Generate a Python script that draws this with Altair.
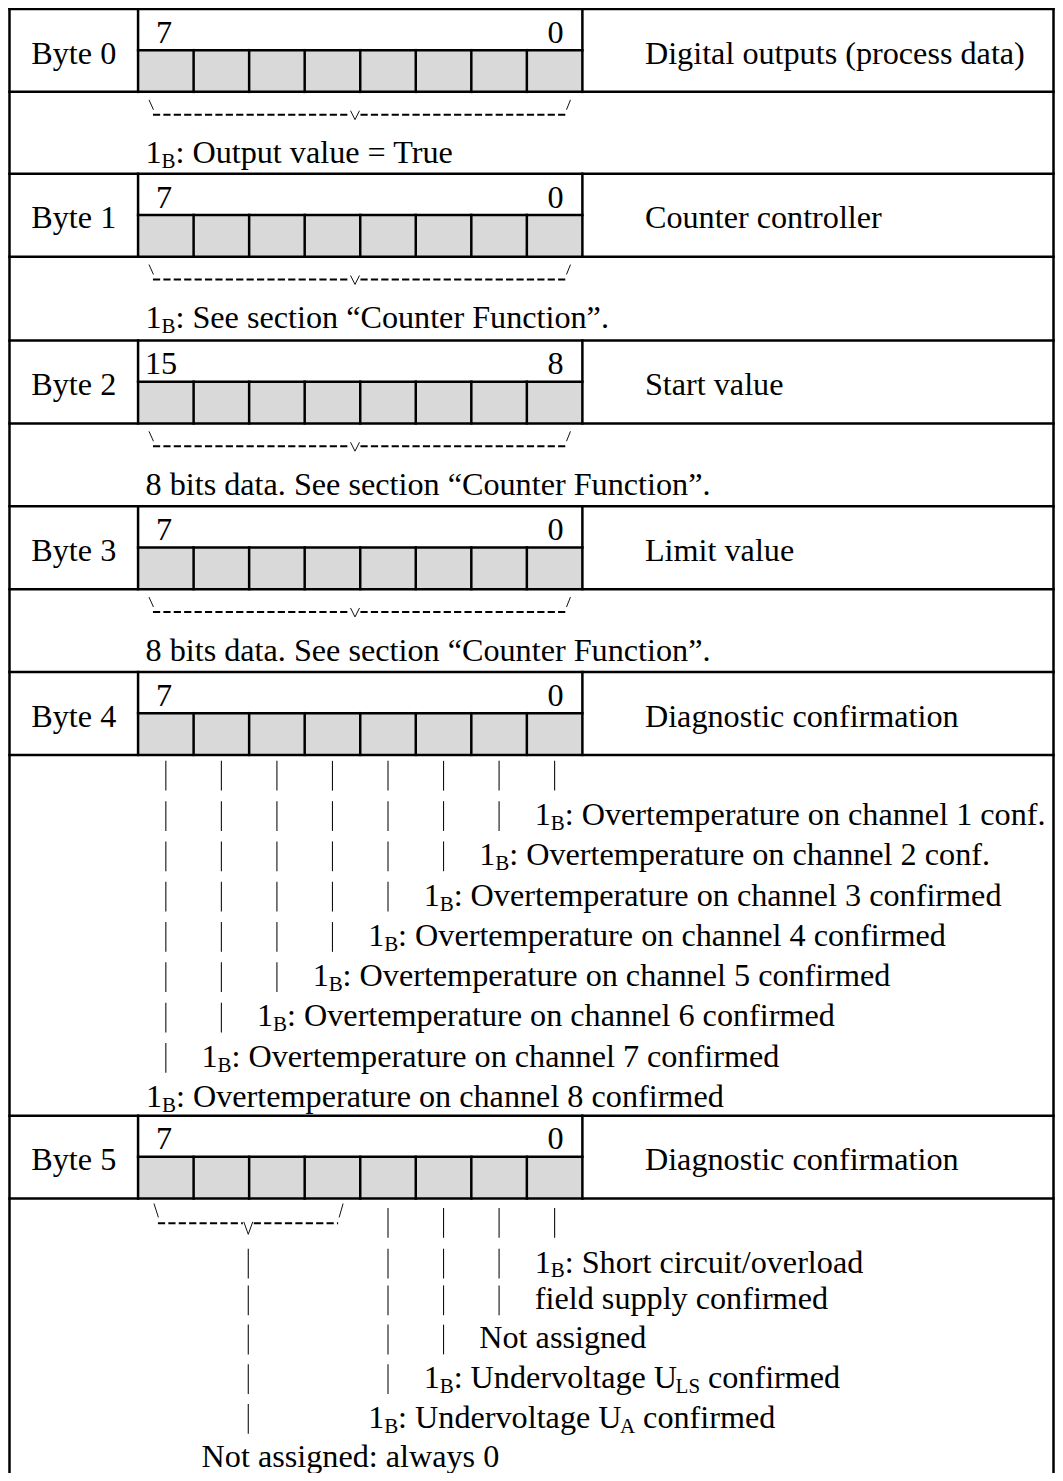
import altair as alt
import pandas as pd

# ---------------- content ----------------
byte_labels = ["Byte 0", "Byte 1", "Byte 2", "Byte 3", "Byte 4", "Byte 5"]
high_bits = ["7", "7", "15", "7", "7", "7"]
low_bits = ["0", "0", "8", "0", "0", "0"]
byte_names = [
    "Digital outputs (process data)",
    "Counter controller",
    "Start value",
    "Limit value",
    "Diagnostic confirmation",
    "Diagnostic confirmation",
]
# segments: (text, is_subscript)
brace_notes = [
    [("1", False), ("B", True), (": Output value = True", False)],
    [("1", False), ("B", True), (": See section \u201cCounter Function\u201d.", False)],
    [("8 bits data. See section \u201cCounter Function\u201d.", False)],
    [("8 bits data. See section \u201cCounter Function\u201d.", False)],
]
channel_notes = [
    "Overtemperature on channel 1 conf.",
    "Overtemperature on channel 2 conf.",
    "Overtemperature on channel 3 confirmed",
    "Overtemperature on channel 4 confirmed",
    "Overtemperature on channel 5 confirmed",
    "Overtemperature on channel 6 confirmed",
    "Overtemperature on channel 7 confirmed",
    "Overtemperature on channel 8 confirmed",
]
byte5_notes = [
    [("1", False), ("B", True), (": Short circuit/overload", False)],
    [("field supply confirmed", False)],
    [("Not assigned", False)],
    [("1", False), ("B", True), (": Undervoltage U", False), ("LS", True), (" confirmed", False)],
    [("1", False), ("B", True), (": Undervoltage U", False), ("A", True), (" confirmed", False)],
    [("Not assigned: always 0", False)],
]
# column (0 = bit 7 ... 7 = bit 0) after which each byte-5 note starts
byte5_note_cols = [6, 6, 5, 4, 3, 0]
byte5_note_rows = [1, 2, 3, 4, 5, 6]

# ---------------- layout (reference pixel space) ----------------
FONT = "Liberation Serif"
F = 32.2
FS = 21.0
SUB_DY = 5.0
LEFT, RIGHT = 10.0, 1061.5
DIV1, DIV2 = 139.5, 587.0
DESC_X = 650.0
byte_tops = [5.0, 171.0, 339.0, 506.0, 673.0, 1120.0]
ROW_H = 83.5
BITS_OFF = 41.5
CELL = (DIV2 - DIV1) / 8
BOTTOM = 1495.0
NOTE_GAP = 36.0
LINE_W = 2.5


def col_x(c):
    return DIV1 + CELL * (c + 0.5)


# Times / Liberation Serif advance widths (1/1000 em)
ADV = {"1": 500, ":": 278, " ": 250, "U": 722, "n": 500, "d": 500, "e": 444,
       "r": 333, "v": 500, "o": 500, "l": 278, "t": 278, "a": 444, "g": 500,
       "B": 667, "L": 611, "S": 556, "A": 722}


def tw(s, size):
    return sum(ADV.get(ch, 500) for ch in s) * size / 1000.0


lines, thin, dashed, rects = [], [], [], []
txt_left, txt_center, txt_right = [], [], []


def add_segments(x0, base, segs):
    x = x0
    for s, sub in segs:
        size = FS if sub else F
        yy = base + SUB_DY if sub else base
        stripped = s.lstrip(" ")
        lead = tw(s[: len(s) - len(stripped)], size)
        txt_left.append(dict(x=x + lead, y=yy, t=stripped, size=size))
        x += tw(s, size)


def pipe(x, base):
    thin.append(dict(x=x, y=base - 24, x2=x, y2=base + 6, w=1.1))


def brace(x_start, x_end, xv, y_dash, y_top, y_bot, v_top, v_bot):
    thin.append(dict(x=x_start - 4, y=y_top, x2=x_start + 0.5, y2=y_bot, w=1.0))
    thin.append(dict(x=x_end + 1, y=y_bot, x2=x_end + 5, y2=y_top, w=1.0))
    thin.append(dict(x=xv - 4.5, y=v_top, x2=xv, y2=v_bot, w=1.0))
    thin.append(dict(x=xv, y=v_bot, x2=xv + 4.5, y2=v_top, w=1.0))
    dashed.append(dict(x=x_start, y=y_dash, x2=xv - 5.5, y2=y_dash))
    dashed.append(dict(x=xv + 5.5, y=y_dash, x2=x_end, y2=y_dash))


# outer verticals
lines.append(dict(x=LEFT, y=byte_tops[0], x2=LEFT, y2=BOTTOM, w=LINE_W))
lines.append(dict(x=RIGHT, y=byte_tops[0], x2=RIGHT, y2=BOTTOM, w=LINE_W))

for i, t in enumerate(byte_tops):
    b = t + ROW_H
    lines.append(dict(x=LEFT, y=t, x2=RIGHT, y2=t, w=LINE_W))
    lines.append(dict(x=LEFT, y=b, x2=RIGHT, y2=b, w=LINE_W))
    lines.append(dict(x=DIV1, y=t, x2=DIV1, y2=b, w=LINE_W))
    lines.append(dict(x=DIV2, y=t, x2=DIV2, y2=b, w=LINE_W))
    lines.append(dict(x=DIV1, y=t + BITS_OFF, x2=DIV2, y2=t + BITS_OFF, w=LINE_W))
    rects.append(dict(x=DIV1, y=t + BITS_OFF, x2=DIV2, y2=b))
    for k in range(1, 8):
        xx = DIV1 + k * CELL
        lines.append(dict(x=xx, y=t + BITS_OFF, x2=xx, y2=b, w=LINE_W))
    txt_center.append(dict(x=(LEFT + DIV1) / 2, y=t + 55, t=byte_labels[i], size=F))
    hb = high_bits[i]
    txt_left.append(dict(x=DIV1 + 7 + (11 if len(hb) == 1 else 0), y=t + 34, t=hb, size=F))
    txt_right.append(dict(x=DIV2 - 19, y=t + 34, t=low_bits[i], size=F))
    txt_left.append(dict(x=DESC_X, y=t + 55, t=byte_names[i], size=F))

# bytes 0-3: whole-byte braces
for i in range(4):
    d = byte_tops[i] + ROW_H
    brace(154.5, 570.0, 358.0, d + 23, d + 8, d + 18, d + 19, d + 28)
    add_segments(147.0, d + 72, brace_notes[i])

# byte 4: one line per bit
d4 = byte_tops[4] + ROW_H
for L in range(9):
    base = d4 + 30 + 40.6 * L
    ncols = 8 if L == 0 else 8 - L
    for c in range(ncols):
        pipe(col_x(c), base)
    if L >= 1:
        add_segments(col_x(7 - L) + NOTE_GAP, base,
                     [("1", False), ("B", True), (": " + channel_notes[L - 1], False)])

# byte 5
d5 = byte_tops[5] + ROW_H
row_off = [33.5, 74.5, 111.5, 151.0, 191.0, 231.0, 270.5]
rows = [d5 + o for o in row_off]
xv5 = 250.5
brace(159.5, 341.0, xv5, d5 + 25, d5 + 5, d5 + 19, d5 + 23.5, d5 + 36)
pipe_rows = {7: [0], 6: [0, 1, 2], 5: [0, 1, 2, 3], 4: [0, 1, 2, 3, 4]}
for c, rr in pipe_rows.items():
    for r in rr:
        pipe(col_x(c), rows[r])
for r in range(1, 6):
    pipe(xv5, rows[r])
for segs, c, r in zip(byte5_notes, byte5_note_cols, byte5_note_rows):
    add_segments(col_x(c) + NOTE_GAP, rows[r], segs)

# ---------------- chart ----------------
W, H = 1047, 1465
xs = alt.Scale(domain=[8.5, 1063], nice=False, zero=False)
ys = alt.Scale(domain=[4, 1480], nice=False, zero=False, reverse=True)


def base_enc(df):
    return alt.Chart(pd.DataFrame(df))


rect_layer = base_enc(rects).mark_rect(fill="#d9d9d9").encode(
    x=alt.X("x:Q", scale=xs, axis=None), x2="x2:Q",
    y=alt.Y("y:Q", scale=ys, axis=None), y2="y2:Q")

line_layer = base_enc(lines).mark_rule(color="black", strokeCap="square").encode(
    x=alt.X("x:Q", scale=xs, axis=None), x2="x2:Q",
    y=alt.Y("y:Q", scale=ys, axis=None), y2="y2:Q",
    strokeWidth=alt.StrokeWidth("w:Q", scale=None))

thin_layer = base_enc(thin).mark_rule(color="#111111", strokeCap="butt").encode(
    x=alt.X("x:Q", scale=xs, axis=None), x2="x2:Q",
    y=alt.Y("y:Q", scale=ys, axis=None), y2="y2:Q",
    strokeWidth=alt.StrokeWidth("w:Q", scale=None))

dash_layer = base_enc(dashed).mark_rule(color="black", strokeWidth=2,
                                          strokeDash=[7.2, 3.2]).encode(
    x=alt.X("x:Q", scale=xs, axis=None), x2="x2:Q",
    y=alt.Y("y:Q", scale=ys, axis=None), y2="y2:Q")


def text_layer(rows_, align):
    return base_enc(rows_).mark_text(align=align, baseline="alphabetic", font=FONT,
                                     color="black").encode(
        x=alt.X("x:Q", scale=xs, axis=None),
        y=alt.Y("y:Q", scale=ys, axis=None),
        text="t:N",
        size=alt.Size("size:Q", scale=None))


chart = alt.layer(
    rect_layer, line_layer, thin_layer, dash_layer,
    text_layer(txt_left, "left"), text_layer(txt_center, "center"),
    text_layer(txt_right, "right"),
).properties(width=W, height=H, autosize="none", padding=0,
             background="white").configure_view(strokeWidth=0)

chart.save("out.html", embed_options={"renderer": "svg", "actions": False})
